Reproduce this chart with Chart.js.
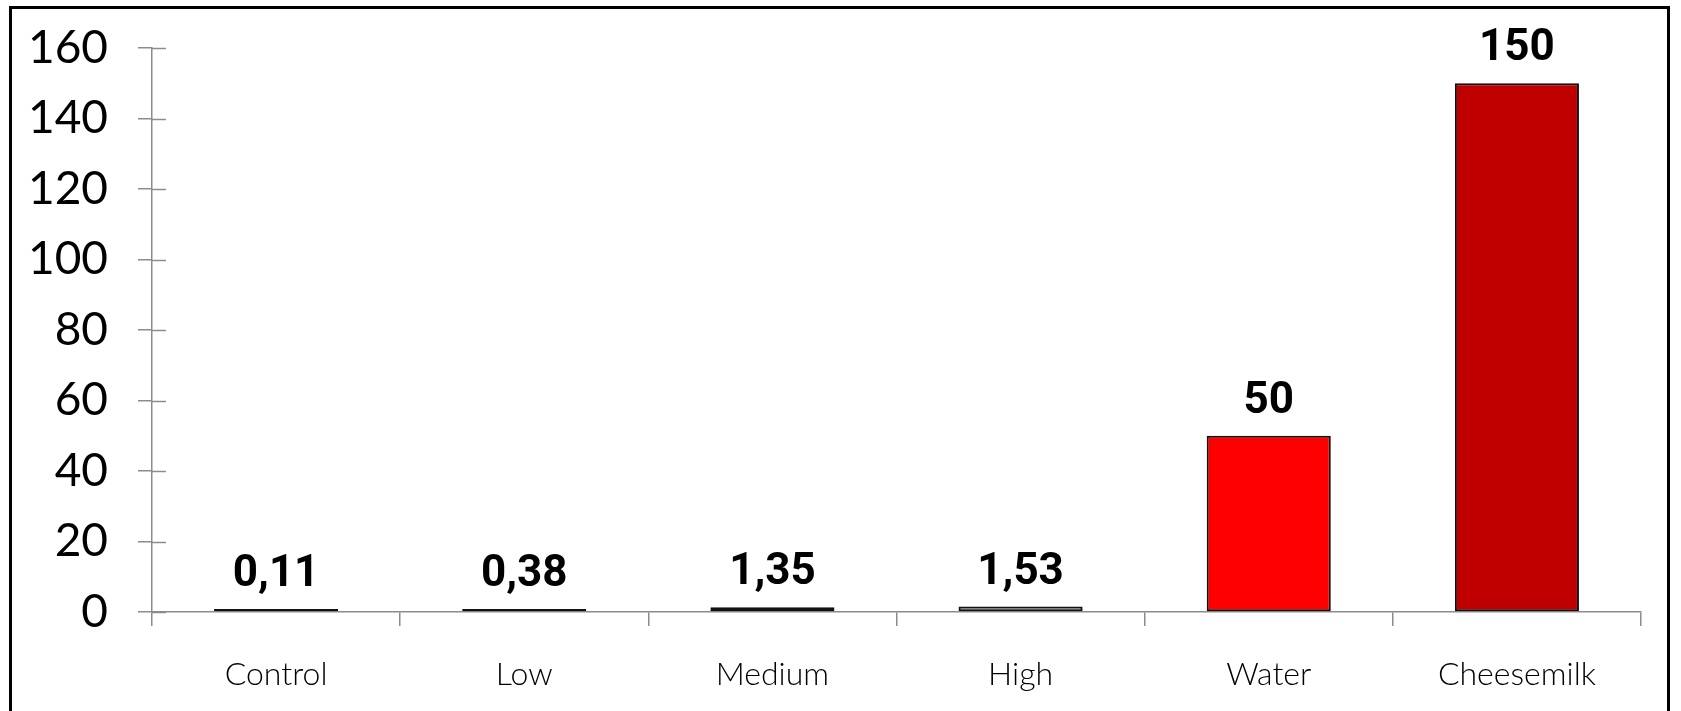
<!DOCTYPE html>
<html>
<head>
<meta charset="utf-8">
<script src="https://cdn.jsdelivr.net/npm/chart.js@4/dist/chart.umd.min.js"></script>
<style>
  html, body { margin: 0; padding: 0; background: #fff; }
  #wrap { position: relative; width: 1681px; height: 711px; overflow: hidden; }
  #frame { position: absolute; left: 9px; top: 6px; width: 1661px; height: 760px; border: 3px solid #000; box-sizing: border-box; }
  canvas { position: absolute; left: 0; top: 0; }
</style>
</head>
<body>
<div id="wrap">
  <div id="frame"></div>
  <canvas id="barChart" width="1681" height="711"></canvas>
</div>
<script>
// kategori dan nilai
const categories = ['Control', 'Low', 'Medium', 'High', 'Water', 'Cheesemilk'];
const values = [0.11, 0.38, 1.35, 1.53, 50, 150];
const barColors = ['#bfbfbf', '#7f7f7f', '#8497b0', '#7f7f7f', '#ff0000', '#c00000'];
const yTicks = [0, 20, 40, 60, 80, 100, 120, 140, 160];

const axisColor = '#8c8c8c';

// garis tick sumbu Y yang menembus ke dalam area grafik
const crossTicks = {
    id: 'crossTicks',
    afterDraw(chart) {
        const c = chart.ctx;
        const y = chart.scales.y;
        const left = chart.chartArea.left;
        c.save();
        c.strokeStyle = axisColor;
        c.lineWidth = 1.5;
        yTicks.forEach(v => {
            const py = Math.round(y.getPixelForValue(v)) + 0.5;
            c.beginPath();
            c.moveTo(left, py);
            c.lineTo(left + 14, py);
            c.stroke();
        });
        c.restore();
    }
};

// label nilai di atas batang (format koma desimal)
const valueLabels = {
    id: 'valueLabels',
    afterDatasetsDraw(chart) {
        const c = chart.ctx;
        const meta = chart.getDatasetMeta(0);
        const zero = chart.scales.y.getPixelForValue(0);
        c.save();
        c.font = 'bold 44px Roboto';
        c.fillStyle = '#000';
        c.textAlign = 'center';
        c.textBaseline = 'alphabetic';
        meta.data.forEach((bar, i) => {
            const txt = String(values[i]).replace('.', ',');
            const top = Math.min(bar.y, zero - 1);
            c.fillText(txt, bar.x, top - 23);
        });
        c.restore();
    }
};

const ctx = document.getElementById('barChart').getContext('2d');
const chart = new Chart(ctx, {
    type: 'bar',
    data: {
        labels: categories,
        datasets: [{
            data: values,
            backgroundColor: barColors,
            borderColor: '#111',
            borderWidth: 2,
            borderSkipped: false,
            minBarLength: 3,
            categoryPercentage: 1,
            barPercentage: 0.5
        }]
    },
    options: {
        responsive: false,
        animation: false,
        layout: { padding: { top: 48, right: 40, left: 0, bottom: 0 } },
        plugins: {
            legend: { display: false },
            tooltip: { enabled: false }
        },
        scales: {
            x: {
                offset: true,
                grid: {
                    offset: true,
                    drawOnChartArea: false,
                    drawTicks: true,
                    tickLength: 14,
                    color: axisColor,
                    lineWidth: 1.5
                },
                border: { display: true, color: axisColor, width: 1.5 },
                ticks: {
                    color: '#000',
                    font: { family: 'Lato', size: 32, weight: 300 },
                    padding: 29,
                    maxRotation: 0
                },
                afterFit(scale) {
                    scale.height = 99;
                    scale.paddingLeft = 0;
                    scale.paddingRight = 0;
                }
            },
            y: {
                min: 0,
                max: 160,
                afterBuildTicks(scale) {
                    scale.ticks = yTicks.map(v => ({ value: v }));
                },
                grid: {
                    drawOnChartArea: false,
                    drawTicks: true,
                    tickLength: 14,
                    color: axisColor,
                    lineWidth: 1.5
                },
                border: { display: true, color: axisColor, width: 1.5 },
                ticks: {
                    color: '#000',
                    font: { family: 'Lato', size: 46 },
                    padding: 30
                },
                afterFit(scale) {
                    scale.width = 152;
                    scale.paddingTop = 0;
                    scale.paddingBottom = 0;
                }
            }
        }
    },
    plugins: [crossTicks, valueLabels]
});
</script>
</body>
</html>
